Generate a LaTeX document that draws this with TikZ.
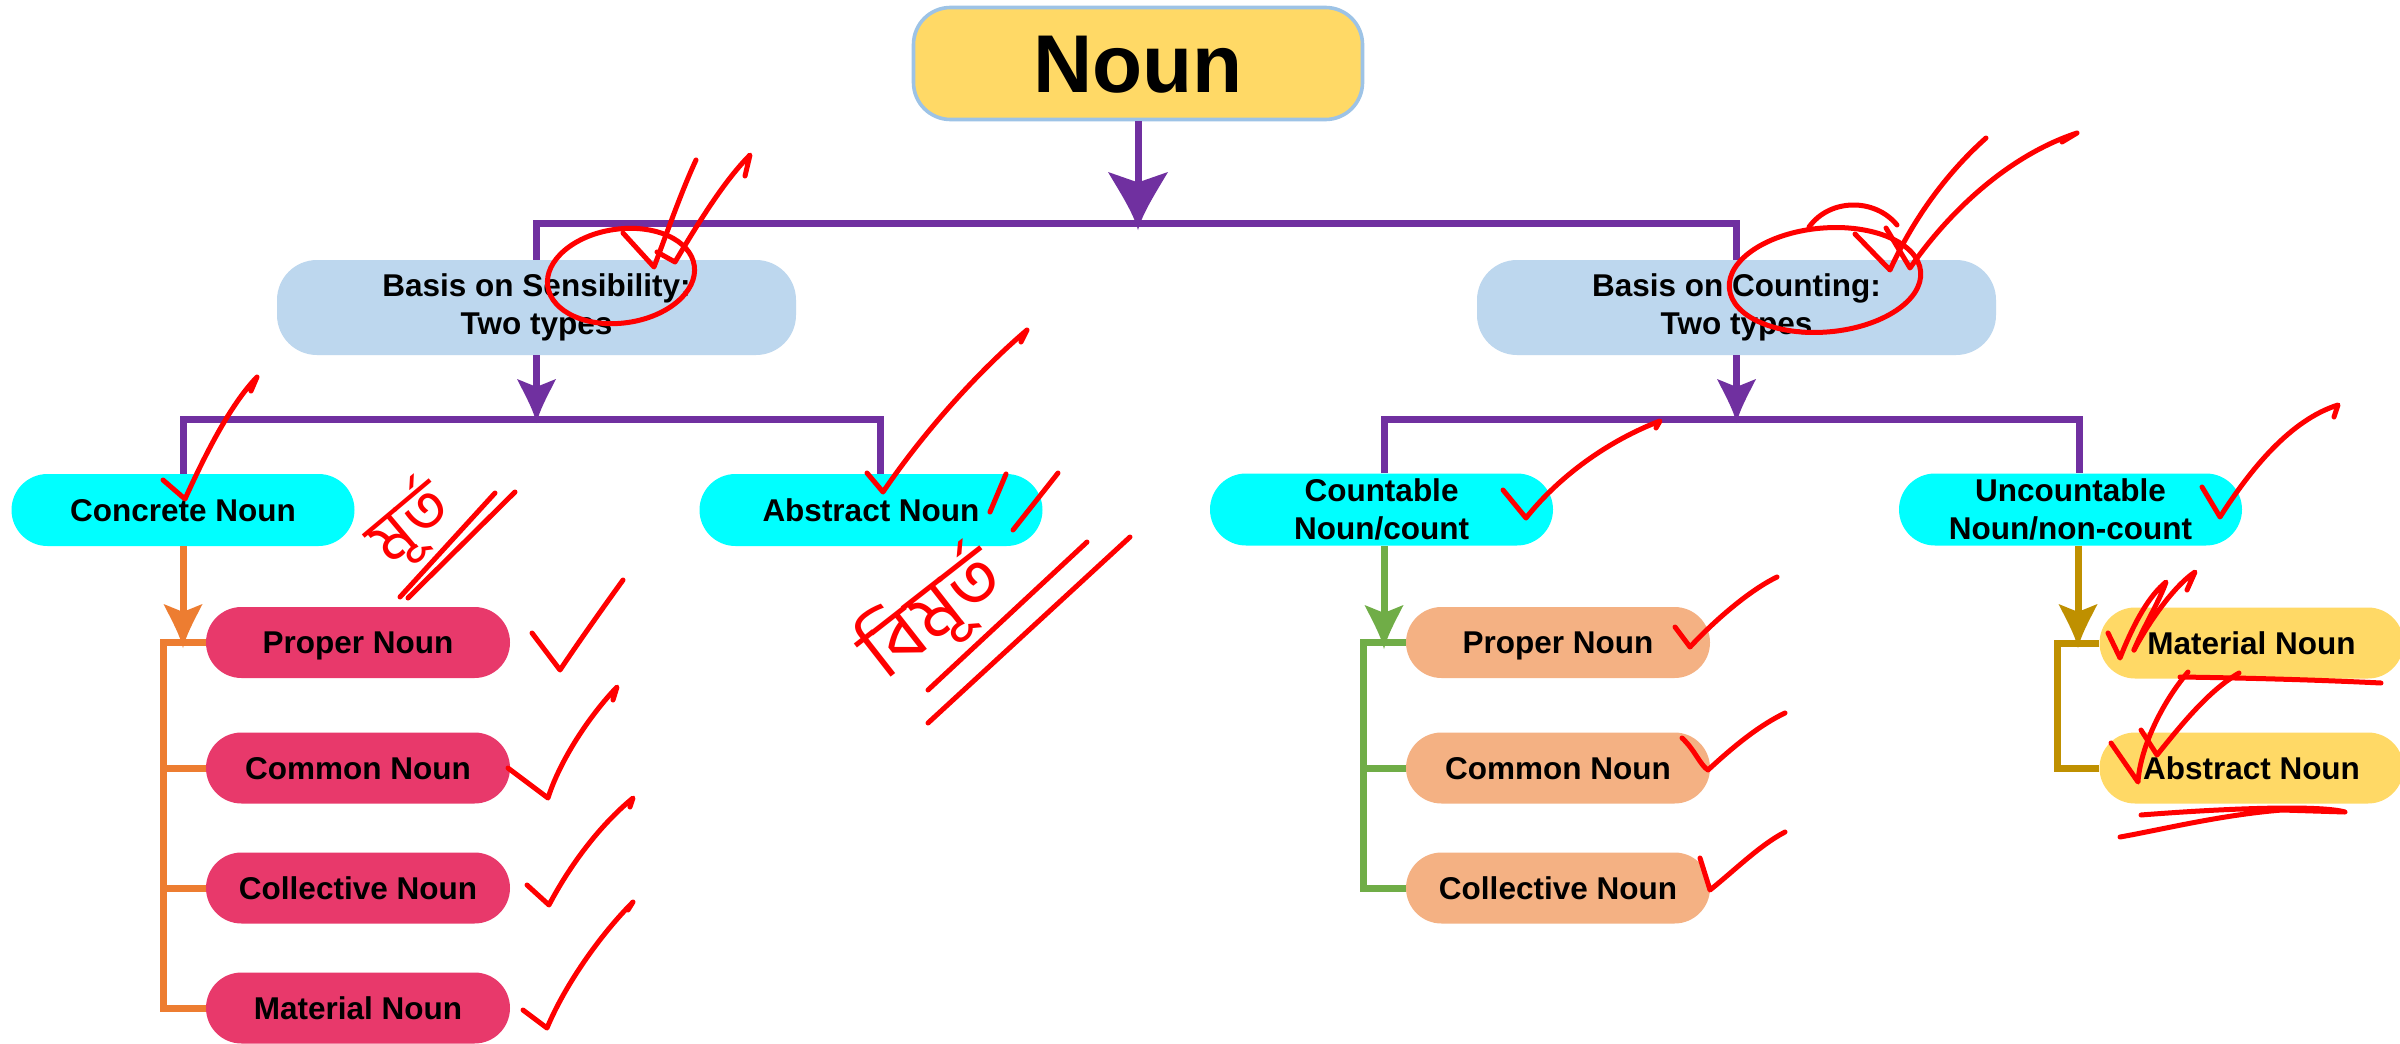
\documentclass[tikz,border=0pt]{standalone}
\usepackage{fontspec}
\setmainfont{Liberation Sans}
\newfontfamily\bnfont[Script=Bengali]{Hind Siliguri}
\usetikzlibrary{arrows.meta}

\definecolor{purp}{HTML}{7030A0}
\definecolor{nounfill}{HTML}{FFD966}
\definecolor{nounedge}{HTML}{9DC3E6}
\definecolor{lblue}{HTML}{BDD7EE}
\definecolor{cyanc}{HTML}{00FFFF}
\definecolor{pinkc}{HTML}{E8396B}
\definecolor{orangel}{HTML}{ED7D31}
\definecolor{salmonc}{HTML}{F4B183}
\definecolor{greenl}{HTML}{70AD47}
\definecolor{goldl}{HTML}{BF9000}
\definecolor{yellowc}{HTML}{FFD966}
\definecolor{inkred}{HTML}{FF0000}

\pgfdeclarearrow{
  name = Curvy,
  parameters = {\the\pgfarrowlength,\the\pgfarrowwidth},
  setup code = {
    \pgfarrowssettipend{0pt}
    \pgfarrowssetlineend{-0.6\pgfarrowlength}
    \pgfarrowssetvisualbackend{-0.8\pgfarrowlength}
    \pgfarrowssetbackend{-\pgfarrowlength}
    \pgfarrowshullpoint{0pt}{0pt}
    \pgfarrowsupperhullpoint{-\pgfarrowlength}{.5\pgfarrowwidth}
    \pgfarrowssavethe\pgfarrowlength
    \pgfarrowssavethe\pgfarrowwidth
  },
  drawing code = {
    \pgfpathmoveto{\pgfpointorigin}
    \pgfpathcurveto{\pgfqpoint{-.3\pgfarrowlength}{.08\pgfarrowwidth}}{\pgfqpoint{-.65\pgfarrowlength}{.3\pgfarrowwidth}}{\pgfqpoint{-\pgfarrowlength}{.5\pgfarrowwidth}}
    \pgfpathlineto{\pgfqpoint{-.82\pgfarrowlength}{0pt}}
    \pgfpathlineto{\pgfqpoint{-\pgfarrowlength}{-.5\pgfarrowwidth}}
    \pgfpathcurveto{\pgfqpoint{-.65\pgfarrowlength}{-.3\pgfarrowwidth}}{\pgfqpoint{-.3\pgfarrowlength}{-.08\pgfarrowwidth}}{\pgfpointorigin}
    \pgfpathclose
    \pgfusepathqfill
  },
  defaults = {length = 10pt, width = 10pt}
}

\tikzset{
  base/.style={rectangle, inner sep=0pt, text=black,
    font=\bfseries\fontsize{15.75pt}{18.75pt}\selectfont},
  onel/.style={text height=11.3pt, text depth=0pt},
  titlebox/.style={rectangle, inner sep=0pt, rounded corners=18.5pt,
    minimum width=224.5pt, minimum height=56pt, fill=nounfill,
    draw=nounedge, line width=1.8pt, text=black,
    font=\bfseries\fontsize{41pt}{48pt}\selectfont,
    text height=29.4pt, text depth=0pt},
  basisbox/.style={base, rounded corners=20pt, minimum width=259.5pt,
    minimum height=47.5pt, fill=lblue, align=center},
  midbox/.style={base, rounded corners=18pt, minimum width=171.5pt,
    minimum height=36pt, fill=cyanc},
  leafbox/.style={base, onel, rounded corners=17.75pt, minimum width=152pt,
    minimum height=35.5pt},
  pline/.style={draw=purp, line width=3.5pt},
  oline/.style={draw=orangel, line width=3.5pt},
  gline/.style={draw=greenl, line width=3.5pt},
  yline/.style={draw=goldl, line width=3.5pt},
  bigtip/.style={-{Curvy[length=29pt,width=30pt]}},
  smalltip/.style={-{Curvy[length=22pt,width=19.5pt]}},
  ink/.style={draw=inkred, line width=2.5pt, line cap=round, line join=round},
  inktext/.style={text=inkred, inner sep=0pt}
}

\begin{document}
\begin{tikzpicture}[x=0.5pt,y=-0.5pt]
\useasboundingbox (0,0) rectangle (2400,1044);
\fill[white] (0,0) rectangle (2400,1044);

% ---------- boxes ----------
\node[titlebox] (noun) at (1138,63.5) {Noun};

\node[basisbox] (sens) at (536.5,307.5) {Basis on Sensibility:\\Two types};
\node[basisbox] (cnt)  at (1736.5,307.5) {Basis on Counting:\\Two types};

\node[midbox, onel] (conc) at (183,510) {Concrete Noun};
\node[midbox, onel] (abst) at (871,510) {Abstract Noun};
\node[midbox, align=center] (cble) at (1381.5,509.5) {Countable\\Noun/count};
\node[midbox, align=center] (ucble) at (2070.5,509.5) {Uncountable\\Noun/non-count};

\node[leafbox, fill=pinkc] (p1) at (358,642.5) {Proper Noun};
\node[leafbox, fill=pinkc] (p2) at (358,768) {Common Noun};
\node[leafbox, fill=pinkc] (p3) at (358,888) {Collective Noun};
\node[leafbox, fill=pinkc] (p4) at (358,1008) {Material Noun};

\node[leafbox, fill=salmonc] (s1) at (1558,642.5) {Proper Noun};
\node[leafbox, fill=salmonc] (s2) at (1558,768) {Common Noun};
\node[leafbox, fill=salmonc] (s3) at (1558,888) {Collective Noun};

\node[leafbox, fill=yellowc] (y1) at (2251.5,643) {Material Noun};
\node[leafbox, fill=yellowc] (y2) at (2251.5,768) {Abstract Noun};

% ---------- bus coordinates ----------
\coordinate (b1) at (1138,223);
\coordinate (t1) at (1138,230);
\coordinate (b2) at (536.5,419);
\coordinate (t2) at (536.5,423);
\coordinate (b3) at (1736.5,419);
\coordinate (t3) at (1736.5,423);
\coordinate (to) at (183,648);
\coordinate (tg) at (1384,649);
\coordinate (ty) at (2078,648);
\coordinate (ob) at (163,642.5);
\coordinate (gb) at (1363,642.5);
\coordinate (yb) at (2057,643);

% ---------- purple connectors ----------
\draw[pline] (sens.north) |- (b1) -| (cnt.north);
\draw[pline, bigtip] (noun.south) -- (t1);
\draw[pline] (conc.north) |- (b2) -| ([xshift=4.5pt]abst.north);
\draw[pline, smalltip] (sens.south) -- (t2);
\draw[pline] ([xshift=1.25pt]cble.north) |- (b3) -| ([xshift=4.5pt]ucble.north);
\draw[pline, smalltip] (cnt.south) -- (t3);

% ---------- orange bracket ----------
\draw[oline, smalltip] (conc.south) -- (to);
\draw[oline] (p1.west) -- (ob) |- (p4.west);
\draw[oline] (p2.west) -- (p2.west -| ob);
\draw[oline] (p3.west) -- (p3.west -| ob);

% ---------- green bracket ----------
\draw[gline, smalltip] ([xshift=1.25pt]cble.south) -- (tg);
\draw[gline] (s1.west) -- (gb) |- (s3.west);
\draw[gline] (s2.west) -- (s2.west -| gb);

% ---------- gold bracket ----------
\draw[yline, smalltip] ([xshift=3.75pt]ucble.south) -- (ty);
\draw[yline] (y1.west) -- (yb) |- (y2.west);

% ---------- red ink annotations ----------
% sensibility
\draw[ink, rotate around={8:(621,276)}] (621,276) ellipse [x radius=37pt, y radius=23.5pt];
\draw[ink] (623,233) -- (654,267) .. controls (668,230) and (682,190) .. (696,160);
\draw[ink] (657,252) -- (675,262) .. controls (700,220) and (725,180) .. (750,155) -- (745,176);
% counting
\draw[ink, rotate around={5:(1825,280)}] (1825,280) ellipse [x radius=48pt, y radius=26pt];
\draw[ink] (1809,227) .. controls (1830,198) and (1875,198) .. (1897,225);
\draw[ink] (1855,234) -- (1890,270) .. controls (1915,215) and (1950,170) .. (1986,138);
\draw[ink] (1886,228) -- (1910,268) .. controls (1950,210) and (2010,155) .. (2077,133) -- (2062,142);
% concrete
\draw[ink] (163,480) -- (185,499) .. controls (205,455) and (230,405) .. (257,377) -- (251,391);
\node[inktext, rotate=40, font=\bnfont\fontsize{33pt}{40pt}\selectfont] (bnone) at (410,524) {মূর্ত};
\draw[ink] (400,597) -- (495,493);
\draw[ink] (408,598) -- (515,492);
% abstract
\draw[ink] (867,473) -- (883,492) .. controls (925,430) and (980,370) .. (1027,330) -- (1021,342);
\draw[ink] (990,512) -- (1006,474);
\draw[ink] (1013,530) -- (1058,473);
\node[inktext, rotate=38, font=\bnfont\fontsize{38pt}{46pt}\selectfont] (bntwo) at (932,614) {বিমূর্ত};
\draw[ink] (928,690) -- (1087,542);
\draw[ink] (928,723) -- (1130,537);
% pink checks
\draw[ink] (532,633) -- (560,670) .. controls (580,640) and (605,605) .. (623,580);
\draw[ink] (508,768) -- (548,798) .. controls (560,760) and (590,715) .. (617,687) -- (613,700);
\draw[ink] (527,885) -- (549,905) .. controls (570,865) and (600,825) .. (633,798) -- (630,807);
\draw[ink] (523,1010) -- (547,1028) .. controls (565,985) and (600,935) .. (633,902) -- (628,910);
% countable / uncountable
\draw[ink] (1503,490) -- (1526,518) .. controls (1560,475) and (1610,440) .. (1660,421) -- (1656,428);
\draw[ink] (2202,487) -- (2220,517) .. controls (2250,470) and (2290,420) .. (2338,405) -- (2334,417);
% salmon checks
\draw[ink] (1675,627) -- (1690,647) .. controls (1715,620) and (1750,590) .. (1777,577);
\draw[ink] (1682,738) .. controls (1695,750) and (1700,765) .. (1708,770) .. controls (1735,745) and (1760,725) .. (1785,713);
\draw[ink] (1700,858) -- (1710,890) .. controls (1735,870) and (1760,845) .. (1785,832);
% yellow boxes
\draw[ink] (2108,633) -- (2120,658) .. controls (2135,620) and (2150,595) .. (2166,582) .. controls (2160,600) and (2142,630) .. (2134,650);
\draw[ink] (2134,650) .. controls (2150,620) and (2175,585) .. (2195,572) -- (2187,590);
\draw[ink] (2180,677) .. controls (2250,678) and (2320,680) .. (2381,683);
\draw[ink] (2111,743) -- (2138,782) .. controls (2140,750) and (2160,705) .. (2188,672);
\draw[ink] (2141,730) -- (2157,755) .. controls (2185,720) and (2210,690) .. (2239,673);
\draw[ink] (2141,815) .. controls (2230,808) and (2320,805) .. (2345,812) -- (2282,810) .. controls (2220,815) and (2160,830) .. (2120,837);
\end{tikzpicture}
\end{document}
